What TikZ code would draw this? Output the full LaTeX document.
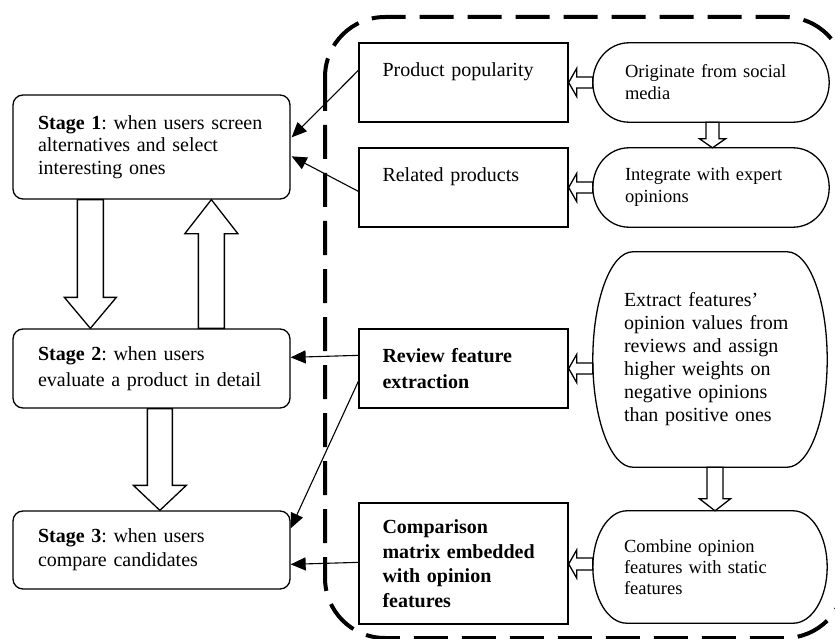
\documentclass[tikz,border=0pt]{standalone}
\usepackage{fontspec}
\setmainfont{Liberation Serif}
\usetikzlibrary{arrows.meta,calc}
\frenchspacing
\tikzset{
  every node/.style={inner sep=0pt, font=\fontsize{20}{23}\selectfont},
  stagebox/.style={draw, line width=1.3pt, rounded corners=10pt, minimum width=277pt, text width=227pt, align=left},
  featbox/.style={draw, line width=1.3pt, minimum width=209pt, text width=162pt, align=left},
  termtext/.style={minimum width=236pt, text width=172pt, align=left},
  conn/.style={line width=1.1pt, -{Triangle[length=15pt,width=13pt]}},
  blk/.style={draw, line width=1.3pt, fill=white, line join=miter},
  termline/.style={line width=1.3pt},
  dashborder/.style={line width=4pt, dash pattern=on 34pt off 14pt, rounded corners=60pt},
}
% terminator outline: node name, x radius
\newcommand\termshape[2]{%
  \draw[termline] let \p1=(#1.north west), \p2=(#1.south east), \n1={(\y1-\y2)/2} in
    ({\x1+#2},\y1) -- ({\x2-#2},\y1) arc[start angle=90,end angle=-90,x radius=#2,y radius=\n1]
    -- ({\x1+#2},\y2) arc[start angle=270,end angle=90,x radius=#2,y radius=\n1] -- cycle;}
% vertical block arrow: start, tip, half shaft, half head, head length (signed)
\newcommand\vblk[5]{%
  \draw[blk] let \p1=(#1), \p2=(#2) in
    ({\x1-#3},\y1) -- ({\x1-#3},{\y2+(#5)}) -- ({\x1-#4},{\y2+(#5)}) -- (\x1,\y2)
    -- ({\x1+#4},{\y2+(#5)}) -- ({\x1+#3},{\y2+(#5)}) -- ({\x1+#3},\y1) -- cycle;}
% horizontal block arrow: start, tip, half shaft, half head, head length (signed)
\newcommand\hblk[5]{%
  \draw[blk] let \p1=(#1), \p2=(#2) in
    (\x1,{\y1-#3}) -- ({\x2+(#5)},{\y1-#3}) -- ({\x2+(#5)},{\y1-#4}) -- (\x2,\y1)
    -- ({\x2+(#5)},{\y1+#4}) -- ({\x2+(#5)},{\y1+#3}) -- (\x1,{\y1+#3}) -- cycle;}
\begin{document}
\frenchspacing
\begin{tikzpicture}[x=1pt,y=-1pt]
\useasboundingbox (0,0) rectangle (835,639);

% dashed grouping border
\draw[dashborder] (325,17) rectangle (845,638);

% stage boxes
\node[stagebox, minimum height=104pt, font=\fontsize{20}{22.5}\selectfont] (s1) at (151.5,147)
  {\textbf{Stage 1}: when users screen\\alternatives and select\\interesting ones};
\node[stagebox, minimum height=79pt, font=\fontsize{20}{26}\selectfont] (s2) at (151.5,368.5)
  {\textbf{Stage 2}: when users\\evaluate a product in detail};
\node[stagebox, minimum height=78pt, font=\fontsize{20}{24}\selectfont] (s3) at (151.5,550)
  {\textbf{Stage 3}: when users\\compare candidates};

% feature boxes
\node[featbox, minimum height=79pt, text height=14pt, text depth=25pt] (pp) at (463.5,82.5) {Product popularity};
\node[featbox, minimum height=79pt, text height=14pt, text depth=25pt] (rp) at (463.5,187.5) {Related products};
\node[featbox, minimum height=79pt, font=\fontsize{20}{26}\selectfont\bfseries] (rfe) at (463.5,368.5)
  {Review feature\\extraction};
\node[featbox, minimum height=121pt, font=\fontsize{20}{24.5}\selectfont\bfseries] (cm) at (463.5,563.5)
  {Comparison\\matrix embedded\\with opinion\\features};

% terminator nodes
\node[termtext, minimum height=79pt, font=\fontsize{18.5}{22}\selectfont] (orig) at (711,82.5)
  {Originate from social\\media};
\node[termtext, minimum height=79pt, font=\fontsize{18.5}{22}\selectfont] (integ) at (711,187.5)
  {Integrate with expert\\opinions};
\node[termtext, minimum width=234pt, minimum height=215pt] (extr) at (710,359.5)
  {Extract features’\\opinion values from\\reviews and assign\\higher weights on\\negative opinions\\than positive ones};
\node[termtext, minimum width=234pt, minimum height=112pt, font=\fontsize{18.5}{21}\selectfont] (comb) at (710,567)
  {Combine opinion\\features with static\\features};
\termshape{orig}{36pt}
\termshape{integ}{36pt}
\termshape{extr}{40pt}
\termshape{comb}{34pt}

% block arrows between stages
\vblk{$(s1.south west)+(78,0)$}{s2.north}{13pt}{26pt}{31pt}
\vblk{$(s2.north west)+(199,0)$}{s1.south}{13pt}{26.5pt}{-34pt}
\vblk{$(s2.south west)+(147.5,0)$}{s3.north}{12.5pt}{26.5pt}{25pt}

% small block arrows on the right
\hblk{orig.west}{pp.east}{5.5pt}{14pt}{8pt}
\hblk{integ.west}{rp.east}{5.5pt}{14pt}{8pt}
\hblk{$(extr.west)+(0,9)$}{rfe.east}{5.5pt}{14pt}{8pt}
\hblk{$(comb.west)+(0,-3)$}{cm.east}{6pt}{14pt}{8pt}
\vblk{$(orig.south)+(1.5,0)$}{integ.north}{6.5pt}{13pt}{9pt}
\vblk{$(extr.south)+(5,0)$}{comb.north}{8pt}{15.5pt}{12pt}

% connectors to the stages
\draw[conn] ($(pp.north west)+(0,28)$) -- ($(s1.north east)+(1,43)$);
\draw[conn] ($(rp.north west)+(0,44)$) -- ($(s1.north east)+(1,62)$);
\draw[conn] ($(rfe.north west)+(0,27)$) -- ($(s2.north east)+(0,29)$);
\draw[conn] ($(rfe.north west)+(0,53)$) -- ($(s3.north east)+(0,18)$);
\draw[conn] ($(cm.north west)+(0,60)$) -- ($(s3.north east)+(0,54)$);
\end{tikzpicture}
\end{document}
